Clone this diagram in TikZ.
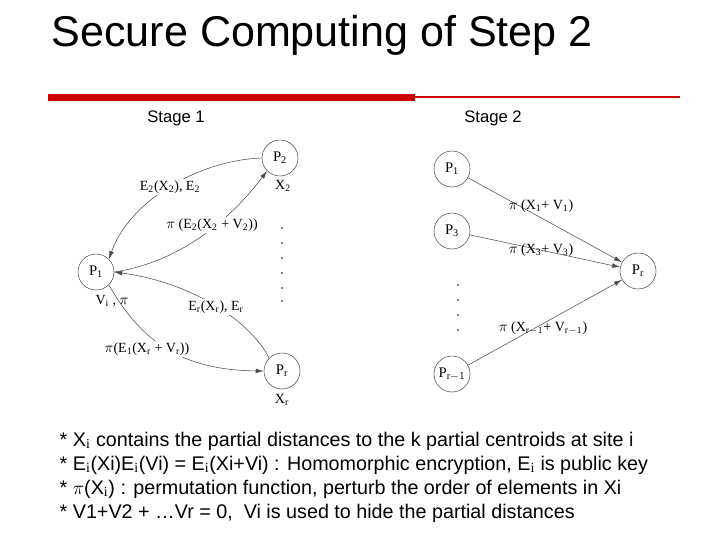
\documentclass[tikz,border=0pt]{standalone}
\usepackage{fontspec}
\setmainfont{Liberation Serif}
\newfontfamily\sans{Liberation Sans}
\usetikzlibrary{arrows.meta}
\newcommand{\ssub}[1]{$_{\mathrm{#1}}$}
\begin{document}
\begin{tikzpicture}[x=0.75pt,y=-0.75pt,
  pnode/.style={draw=black!70,circle,minimum size=27pt,inner sep=0pt,font=\fontsize{11}{13}\selectfont},
  lbl/.style={font=\fontsize{10.5}{12}\selectfont},
  arr/.style={draw=black!70,line width=0.4pt,-{Latex[length=6pt,width=3.5pt]}},
  body/.style={font=\sans\fontsize{14.8}{17}\selectfont,anchor=west}]
\useasboundingbox (0,0) rectangle (720,540);
\fill[white] (0,0) rectangle (720,540);
\node[anchor=west,font=\sans\fontsize{32.3}{38}\selectfont] (title) at (47,35) {Secure Computing of Step 2};
\fill[red!80!black] (48,94) rectangle (415,101);
\draw[red!80!black,line width=0.8pt] (415,97) -- (680,97);
\node[font=\sans\fontsize{12.5}{14}\selectfont] (s1) at (176,118) {Stage 1};
\node[font=\sans\fontsize{12.5}{14}\selectfont] (s2) at (493,118) {Stage 2};
% stage 1
\node[pnode] (a2) at (280,158) {P\ssub{2}};
\node[pnode] (a1) at (96,272) {P\ssub{1}};
\node[pnode] (ar) at (282,371) {P\ssub{r}};
\node[lbl] (x2) at (283,186) {X\ssub{2}};
\node[lbl] (vi) at (112,301) {V\ssub{i} , $\pi$};
\node[lbl] (xr) at (282,400) {X\ssub{r}};
\foreach \y in {228,243,258,273,288,301} \fill (282,\y) circle (0.8);
\draw[arr] (a2.west) .. controls (200,160) and (130,200) .. (a1.north east);
\draw[arr] (a1.east) .. controls (180,262) and (230,220) .. (a2.south west);
\draw[arr] (ar.north west) .. controls (250,320) and (190,282) .. (a1.east);
\draw[arr] (a1.south east) .. controls (140,340) and (180,370) .. (ar.west);
\node[lbl,fill=white,inner sep=1pt] (l1) at (170,187) {E\ssub{2}(X\ssub{2}), E\ssub{2}};
\node[lbl,fill=white,inner sep=1pt] (l2) at (212,225) {$\pi$ (E\ssub{2}(X\ssub{2} + V\ssub{2}))};
\node[lbl,fill=white,inner sep=1pt] (l3) at (216,307) {E\ssub{r}(X\ssub{r}), E\ssub{r}};
\node[lbl,fill=white,inner sep=1pt] (l4) at (147,349) {$\pi$(E\ssub{1}(X\ssub{r} + V\ssub{r}))};
% stage 2
\node[pnode] (b1) at (452,169) {P\ssub{1}};
\node[pnode] (b3) at (452,231) {P\ssub{3}};
\node[pnode] (br) at (638,271) {P\ssub{r}};
\node[pnode] (brm) at (452,374) {P$_{\mathrm{r}-1}$};
\foreach \y in {285,300,315,330} \fill (458,\y) circle (0.8);
\draw[arr] (b1) -- (br);
\draw[arr] (b3) -- (br);
\draw[arr] (brm) -- (br);
\node[lbl] (m1) at (541,206) {$\pi$ (X\ssub{1}+ V\ssub{1})};
\node[lbl] (m3) at (541,250) {$\pi$ (X\ssub{3}+ V\ssub{3})};
\node[lbl] (mr) at (543,328) {$\pi$ (X$_{\mathrm{r}-1}$+ V$_{\mathrm{r}-1}$)};
% text
\node[body] (t1) at (55,441) {* X\ssub{i} contains the partial distances to the k partial centroids at site i};
\node[body] (t2) at (55,465) {* E\ssub{i}(Xi)E\ssub{i}(Vi) = E\ssub{i}(Xi+Vi) : Homomorphic encryption, E\ssub{i} is public key};
\node[body] (t3) at (55,489) {* {\rmfamily$\pi$}(X\ssub{i}) : permutation function, perturb the order of elements in Xi};
\node[body] (t4) at (55,513) {* V1+V2 + …Vr = 0,\ \ Vi is used to hide the partial distances};
\end{tikzpicture}
\end{document}
